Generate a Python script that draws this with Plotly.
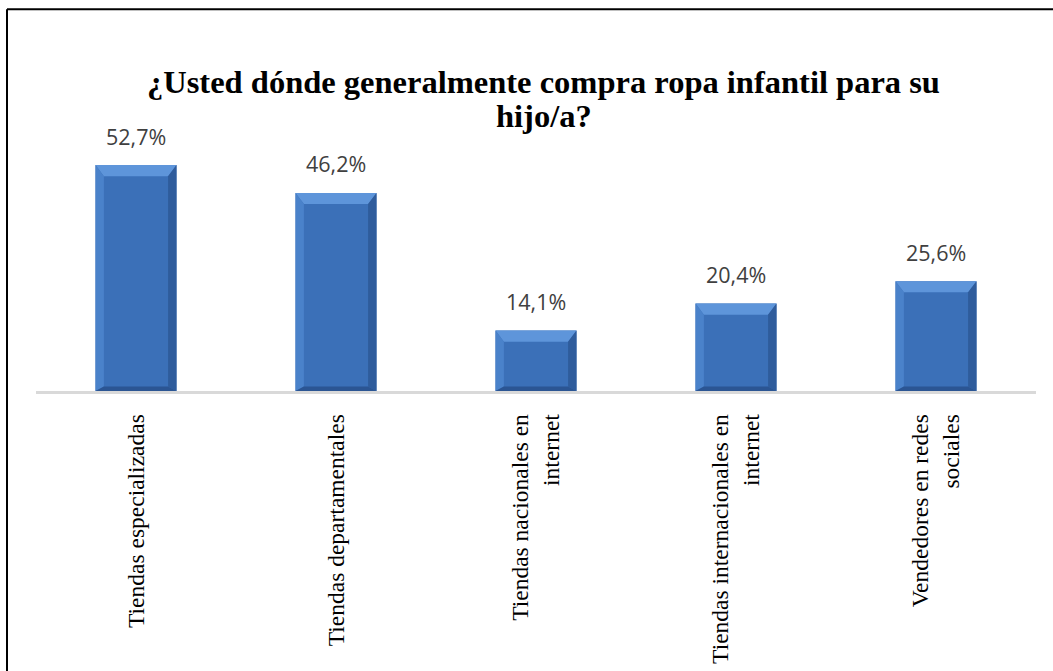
import plotly.graph_objects as go

# Survey results: where parents usually buy children's clothing
categories = [
    "Tiendas especializadas",
    "Tiendas departamentales",
    "Tiendas nacionales en<br>internet",
    "Tiendas internacionales en<br>internet",
    "Vendedores en redes<br>sociales",
]
values = [52.7, 46.2, 14.1, 20.4, 25.6]
value_labels = ["52,7%", "46,2%", "14,1%", "20,4%", "25,6%"]
title_lines = ["¿Usted dónde generalmente compra ropa infantil para su", "hijo/a?"]

positions = list(range(len(categories)))

BAR_W = 0.405          # bar width in category units
BEVEL_X = 0.042        # horizontal bevel depth (category units)
BEVEL_Y = 2.6          # vertical bevel depth (percent units)
Y_MAX = 56.2

BODY = "#3b70b8"
TOP_LIGHT = "#5e95da"
LEFT_LIGHT = "#4a82ca"
RIGHT_DARK = "#2f5c9c"
BOTTOM_DARK = "#2b5593"

fig = go.Figure()

fig.add_trace(go.Bar(
    x=positions,
    y=values,
    width=BAR_W,
    marker=dict(color=BODY, line=dict(width=0)),
    hoverinfo="skip",
    showlegend=False,
))

# Bevel facets on each bar
shapes = []
for xi, v in zip(positions, values):
    x0, x1 = xi - BAR_W / 2, xi + BAR_W / 2
    bx, by = BEVEL_X, min(BEVEL_Y, v / 4)
    facets = [
        # top
        (f"M {x0},{v} L {x1},{v} L {x1 - bx},{v - by} L {x0 + bx},{v - by} Z", TOP_LIGHT),
        # left
        (f"M {x0},{v} L {x0 + bx},{v - by} L {x0 + bx},{by * 0.4} L {x0},0 Z", LEFT_LIGHT),
        # right
        (f"M {x1},{v} L {x1 - bx},{v - by} L {x1 - bx},{by * 0.4} L {x1},0 Z", RIGHT_DARK),
        # bottom
        (f"M {x0},0 L {x1},0 L {x1 - bx},{by * 0.4} L {x0 + bx},{by * 0.4} Z", BOTTOM_DARK),
    ]
    for path, col in facets:
        shapes.append(dict(type="path", xref="x", yref="y", path=path,
                           fillcolor=col, line=dict(width=0), layer="above"))

# Outer frame (left and top edges)
shapes.append(dict(type="line", xref="paper", yref="paper",
                   x0=-0.029, x1=-0.029, y0=-2, y1=1.584,
                   line=dict(color="black", width=2)))
shapes.append(dict(type="line", xref="paper", yref="paper",
                   x0=-0.029, x1=2, y0=1.584, y1=1.584,
                   line=dict(color="black", width=2)))

annotations = []
for xi, v, lab in zip(positions, values, value_labels):
    annotations.append(dict(
        x=xi, y=v, xref="x", yref="y", text=lab, showarrow=False,
        yanchor="middle", yshift=29,
        font=dict(family="Open Sans", size=21.5, color="#404040"),
    ))

# Two-line bold title
for line, ypos in zip(title_lines, [1.282, 1.141]):
    annotations.append(dict(
        x=0.5075, y=ypos, xref="paper", yref="paper", text=f"<b>{line}</b>",
        showarrow=False, xanchor="center", yanchor="middle",
        font=dict(family="Liberation Serif", size=32.5, color="black"),
    ))

fig.update_layout(
    width=1053,
    height=671,
    margin=dict(l=36, r=17, t=150, b=280),
    paper_bgcolor="white",
    plot_bgcolor="white",
    shapes=shapes,
    annotations=annotations,
    xaxis=dict(
        range=[-0.5, 4.5],
        tickmode="array",
        tickvals=positions,
        ticktext=categories,
        tickangle=-90,
        tickfont=dict(family="Liberation Serif", size=23.5, color="black"),
        showline=True,
        linecolor="#d9d9d9",
        linewidth=2.5,
        showgrid=False,
        zeroline=False,
        ticks="",
        ticklabelstandoff=11,
        automargin=False,
        fixedrange=True,
    ),
    yaxis=dict(
        range=[0, Y_MAX],
        visible=False,
        showgrid=False,
        zeroline=False,
        automargin=False,
        fixedrange=True,
    ),
)

fig.write_html("out.html")
